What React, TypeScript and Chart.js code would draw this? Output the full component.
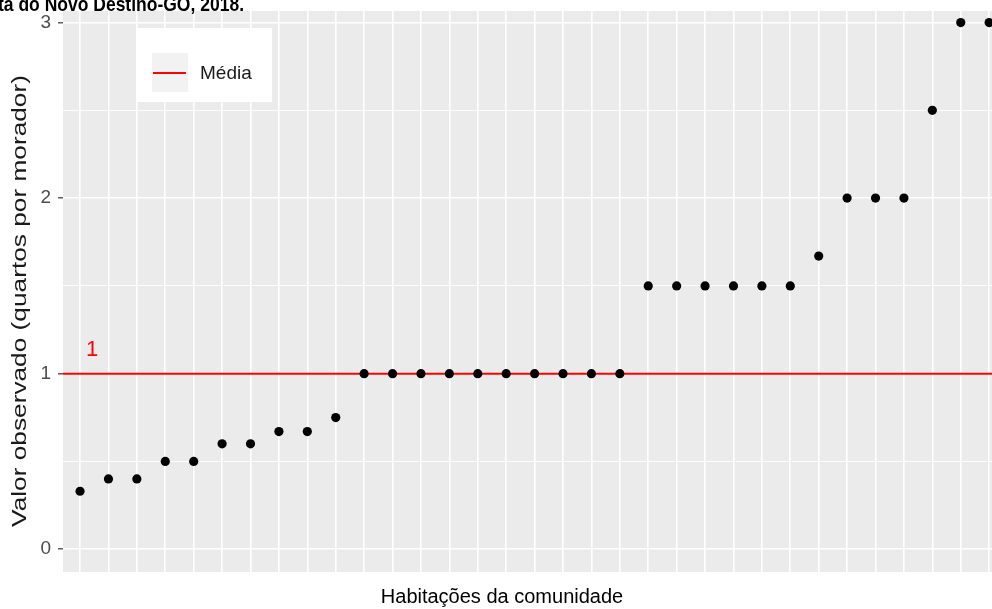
import React, { useEffect, useRef } from 'react';
import { Chart, registerables } from 'chart.js';

Chart.register(...registerables);

// ---- data ----
const HOUSES = [1, 2, 3, 4, 5, 6, 7, 8, 9, 10, 11, 12, 13, 14, 15, 16, 17, 18, 19, 20, 21, 22, 23, 24, 25, 26, 27, 28, 29, 30, 31, 32, 33];
const VALUES = [0.33, 0.4, 0.4, 0.5, 0.5, 0.6, 0.6, 0.67, 0.67, 0.75, 1, 1, 1, 1, 1, 1, 1, 1, 1, 1, 1.5, 1.5, 1.5, 1.5, 1.5, 1.5, 1.67, 2, 2, 2, 2.5, 3, 3];
const MEAN = 1;
const MEAN_LABEL = '1';
const Y_TICKS = [0, 0.5, 1, 1.5, 2, 2.5, 3];
const LEGEND_LABEL = 'Média';
const X_TITLE = 'Habitações da comunidade';
const Y_TITLE = 'Valor observado (quartos por morador)';
const TOP_TITLE = 'ta do Novo Destino-GO, 2018.';

const X_MIN = 0.4;
const X_MAX = 33.1;
const Y_MIN = -0.13;
const Y_MAX = 3.066;

const FONT = '"Liberation Sans", Arial, sans-serif';

const decorPlugin = {
  id: 'decor',
  beforeDraw(chart: any) {
    const { ctx, chartArea } = chart;
    ctx.save();
    ctx.fillStyle = '#ffffff';
    ctx.fillRect(0, 0, chart.width, chart.height);
    ctx.fillStyle = '#EBEBEB';
    ctx.fillRect(chartArea.left, chartArea.top, chartArea.right - chartArea.left, chartArea.bottom - chartArea.top);
    ctx.restore();
  },
  afterDraw(chart: any) {
    const { ctx } = chart;
    const yScale = chart.scales.y;
    const xScale = chart.scales.x;
    ctx.save();

    // mean label
    ctx.fillStyle = '#FF0000';
    ctx.font = `22px ${FONT}`;
    ctx.textAlign = 'center';
    ctx.textBaseline = 'middle';
    ctx.fillText(MEAN_LABEL, xScale.getPixelForValue(HOUSES[0]) + 12, yScale.getPixelForValue(MEAN) - 24);

    // legend
    ctx.fillStyle = '#ffffff';
    ctx.fillRect(137, 28, 135, 74);
    ctx.fillStyle = '#F2F2F2';
    ctx.fillRect(152, 53, 36, 39);
    ctx.strokeStyle = '#FF0000';
    ctx.lineWidth = 2;
    ctx.beginPath();
    ctx.moveTo(153, 73);
    ctx.lineTo(186, 73);
    ctx.stroke();
    ctx.fillStyle = '#1a1a1a';
    ctx.font = `19px ${FONT}`;
    ctx.textAlign = 'left';
    ctx.textBaseline = 'middle';
    ctx.fillText(LEGEND_LABEL, 200, 74);

    // x title
    ctx.fillStyle = '#000000';
    ctx.font = `20px ${FONT}`;
    ctx.textAlign = 'center';
    ctx.textBaseline = 'alphabetic';
    ctx.fillText(X_TITLE, 502, 603);

    // y title (stretched vertically)
    ctx.save();
    ctx.translate(20, 301);
    ctx.rotate(-Math.PI / 2);
    ctx.scale(1.25, 1);
    ctx.font = `21px ${FONT}`;
    ctx.textAlign = 'center';
    ctx.textBaseline = 'middle';
    ctx.fillStyle = '#1a1a1a';
    ctx.fillText(Y_TITLE, 0, 0);
    ctx.restore();

    // top (cropped) title
    ctx.save();
    ctx.fillStyle = '#000000';
    ctx.font = `bold 17.5px ${FONT}`;
    ctx.textAlign = 'right';
    ctx.textBaseline = 'alphabetic';
    ctx.translate(244, 11);
    ctx.scale(1, 1.2);
    ctx.fillText(TOP_TITLE, 0, 0);
    ctx.restore();

    ctx.restore();
  },
};

export default function App() {
  const ref = useRef<HTMLCanvasElement | null>(null);

  useEffect(() => {
    if (!ref.current) return;
    const points = HOUSES.map((h, i) => ({ x: h, y: VALUES[i] }));
    const chart = new Chart(ref.current, {
      type: 'scatter',
      data: {
        datasets: [
          {
            type: 'scatter',
            label: 'obs',
            data: points,
            backgroundColor: '#000000',
            borderWidth: 0,
            pointRadius: 4.6,
            order: 0,
          } as any,
          {
            type: 'line',
            label: LEGEND_LABEL,
            data: [
              { x: X_MIN, y: MEAN },
              { x: X_MAX, y: MEAN },
            ],
            borderColor: '#FF0000',
            borderWidth: 2,
            pointRadius: 0,
            fill: false,
            order: 1,
          } as any,
        ],
      },
      options: {
        animation: false,
        responsive: false,
        devicePixelRatio: 1,
        layout: { autoPadding: false, padding: { top: 11, left: 0, right: 0, bottom: 0 } },
        plugins: {
          legend: { display: false },
          tooltip: { enabled: false },
          title: { display: false },
        },
        scales: {
          x: {
            type: 'linear',
            min: X_MIN,
            max: X_MAX,
            afterBuildTicks: (scale: any) => {
              scale.ticks = HOUSES.map((v) => ({ value: v }));
            },
            afterFit: (scale: any) => {
              scale.height = 37;
              scale.paddingLeft = 0;
              scale.paddingRight = 0;
            },
            ticks: { display: false },
            grid: { color: '#ffffff', lineWidth: 1.6, drawTicks: false },
            border: { display: false },
          },
          y: {
            type: 'linear',
            min: Y_MIN,
            max: Y_MAX,
            afterBuildTicks: (scale: any) => {
              scale.ticks = Y_TICKS.map((v) => ({ value: v }));
            },
            afterFit: (scale: any) => {
              scale.width = 63;
              scale.paddingTop = 0;
              scale.paddingBottom = 0;
            },
            ticks: {
              color: '#4D4D4D',
              font: { family: FONT, size: 19 },
              padding: 7,
              callback: (v: any) => (Number.isInteger(Number(v)) ? String(v) : ''),
            },
            grid: {
              color: '#ffffff',
              lineWidth: (c: any) => (c.tick && Number.isInteger(c.tick.value) ? 1.6 : 0.9),
              tickColor: (c: any) => (c.tick && Number.isInteger(c.tick.value) ? '#333333' : 'rgba(0,0,0,0)'),
              tickLength: 5,
              tickWidth: 1.2,
            },
            border: { display: false },
          },
        },
      } as any,
      plugins: [decorPlugin],
    });
    return () => chart.destroy();
  }, []);

  return (
    <div style={{ position: 'fixed', left: 0, top: 0, width: 992, height: 609, background: '#ffffff' }}>
      <canvas ref={ref} width={992} height={609} style={{ display: 'block' }} />
    </div>
  );
}
